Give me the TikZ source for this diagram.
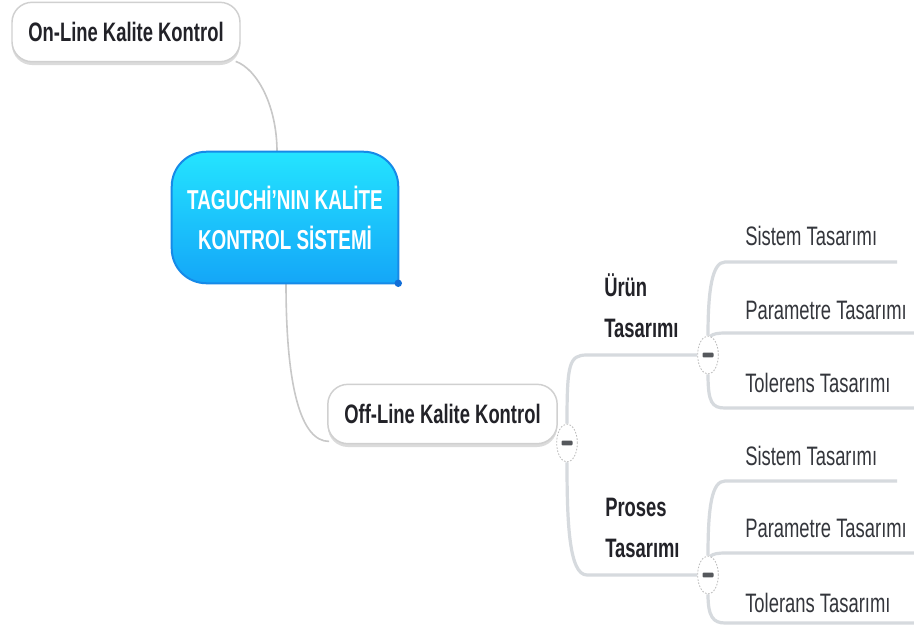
\documentclass[tikz,border=0pt]{standalone}
\usepackage{fontspec}
\setmainfont{Liberation Sans}[FakeStretch=0.69]
\usetikzlibrary{calc,shapes.geometric,shadows,backgrounds}
\definecolor{coretop}{RGB}{36,228,255}
\definecolor{corebot}{RGB}{20,166,248}
\definecolor{coreborder}{RGB}{22,138,232}
\definecolor{coredot}{RGB}{18,110,215}
\definecolor{pillborder}{RGB}{208,208,208}
\definecolor{linkgray}{RGB}{200,200,200}
\definecolor{branchgray}{RGB}{214,218,222}
\definecolor{txtdark}{RGB}{34,34,40}
\definecolor{txtleaf}{RGB}{52,54,60}
\definecolor{minusgray}{RGB}{85,88,92}
\definecolor{togborder}{RGB}{185,185,185}
\tikzset{
  pill/.style={draw=pillborder, line width=1.1pt, fill=white, rounded corners=15pt,
    minimum height=44.5pt, inner sep=0pt,
    font=\bfseries\fontsize{20}{24}\selectfont, text=txtdark,
    drop shadow={shadow xshift=0pt, shadow yshift=-2.5pt, opacity=0.14, fill=black}},
  coretext/.style={minimum width=169.5pt, minimum height=98.25pt, inner sep=0pt, align=center,
    text=white, font=\bfseries\fontsize{20.5}{30}\selectfont},
  coreshape/.style={top color=coretop, bottom color=corebot, draw=coreborder,
    line width=1.5pt, rounded corners=26pt, line cap=rect},
  toggle/.style={ellipse, draw=togborder, line width=0.6pt, dash pattern=on 1.2pt off 1.2pt,
    fill=white, minimum width=15.5pt, minimum height=28.5pt, inner sep=0pt},
  minusbar/.style={fill=minusgray, rounded corners=0.8pt},
  cat/.style={anchor=south west, inner sep=0pt, align=left, text=txtdark,
    font=\bfseries\fontsize{20}{30.75}\selectfont},
  leaf/.style={anchor=base west, inner sep=0pt, text=txtleaf, font=\fontsize{20}{24}\selectfont},
  thinlink/.style={draw=linkgray, line width=1.2pt},
  branch/.style={draw=branchgray, line width=2.4pt},
}
\begin{document}
\begin{tikzpicture}[x=0.75pt,y=-0.75pt]
\begin{scope}[on background layer]
\fill[white] (0,0) rectangle (914,632);
\end{scope}
\useasboundingbox (0,0) rectangle (914,632);

% main nodes
\node[pill, minimum width=171pt] (on) at (126,32) {On-Line Kalite Kontrol};
\node[coretext] (core) at (285,217.5) {TAGUCHİ'NIN KALİTE\\KONTROL SİSTEMİ};
\node[pill, minimum width=172pt] (off) at (442.5,414) {Off-Line Kalite Kontrol};

% toggles
\node[toggle] (t0) at (567,443) {};
\node[toggle] (t1) at (708,355) {};
\node[toggle] (t2) at (708,575) {};
\foreach \t in {t0,t1,t2}{
  \fill[minusbar] ($(\t)+(-5.5,-2.4)$) rectangle ($(\t)+(5.5,2.4)$);
}

% category labels
\node[cat] (urun) at (604,338) {Ürün\\Tasarımı};
\node[cat] (proses) at (605,558) {Proses\\Tasarımı};

% leaf labels
\node[leaf] (u1) at (745,245) {Sistem Tasarımı};
\node[leaf] (u2) at (745,319) {Parametre Tasarımı};
\node[leaf] (u3) at (745,392) {Tolerens Tasarımı};
\node[leaf] (p1) at (745,465) {Sistem Tasarımı};
\node[leaf] (p2) at (745,537) {Parametre Tasarımı};
\node[leaf] (p3) at (745,612) {Tolerans Tasarımı};

% free ends of underlines
\coordinate (ua) at (587,355);
\coordinate (pa) at (587,575);
\coordinate (u1a) at (725,262);  \coordinate (u1b) at (897,262);
\coordinate (u2a) at (726,333);  \coordinate (u2b) at (914,333);
\coordinate (u3a) at (725,408);  \coordinate (u3b) at (914,408);
\coordinate (p1a) at (725,481);  \coordinate (p1b) at (897,481);
\coordinate (p2a) at (726,553);  \coordinate (p2b) at (914,553);
\coordinate (p3a) at (725,623);  \coordinate (p3b) at (914,623);

\begin{scope}[on background layer]
  % connectors from the central topic
  \draw[thinlink] ($(on.south east)+(-5,-1)$) .. controls +(22,8) and +(0,-45) .. ($(core.north)+(-8,0)$);
  \draw[thinlink] ($(core.south)+(1,0)$) .. controls +(0,105) and +(-28,0) .. ($(off.south west)+(2,-3)$);
  % off-line branches
  \draw[branch] (t0.north) .. controls +(0,-60) and +(-18,0) .. (ua) -- (t1.west);
  \draw[branch] (t0.south) .. controls +(0,60) and +(-18,0) .. (pa) -- (t2.west);
  % urun leaves
  \draw[branch] (t1.north) .. controls +(0,-45) and +(-13,0) .. (u1a) -- (u1b);
  \draw[branch] ($(t1.north)+(2,1)$) .. controls +(3,-3) and +(-8,0) .. (u2a) -- (u2b);
  \draw[branch] (t1.south) .. controls +(0,28) and +(-13,0) .. (u3a) -- (u3b);
  % proses leaves
  \draw[branch] (t2.north) .. controls +(0,-50) and +(-13,0) .. (p1a) -- (p1b);
  \draw[branch] ($(t2.north)+(2,1)$) .. controls +(3,-3) and +(-8,0) .. (p2a) -- (p2b);
  \draw[branch] (t2.south) .. controls +(0,22) and +(-12,0) .. (p3a) -- (p3b);
  % central shape
  \draw[coreshape] (core.south east) -- (core.south west) -- (core.north west) -- (core.north east) -- (core.south east);
\end{scope}
\fill[coredot] (core.south east) circle (2.8pt);
\end{tikzpicture}
\end{document}
